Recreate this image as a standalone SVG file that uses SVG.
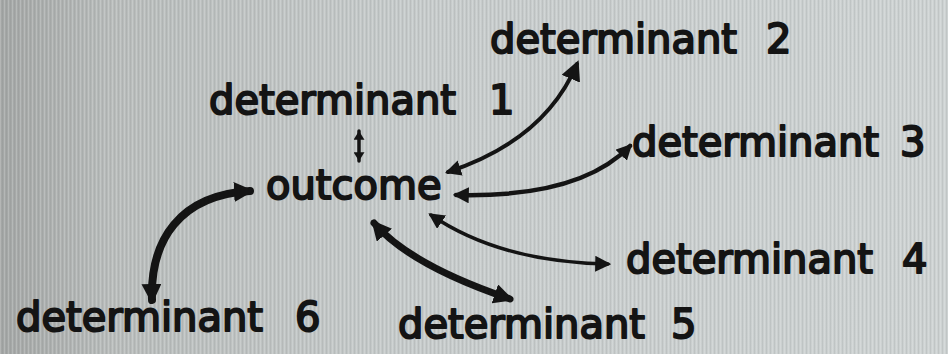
<svg xmlns="http://www.w3.org/2000/svg" width="948" height="354" viewBox="0 0 948 354">
  <defs>
    <linearGradient id="bg" x1="0" y1="0" x2="1" y2="0">
      <stop offset="0" stop-color="#a3a6a5"/>
      <stop offset="0.12" stop-color="#b8bcbb"/>
      <stop offset="0.45" stop-color="#c6cbcb"/>
      <stop offset="1" stop-color="#cdd2d2"/>
    </linearGradient>
    <pattern id="stripes" width="4" height="10" patternUnits="userSpaceOnUse">
      <rect x="0" y="0" width="1" height="10" fill="#ffffff" opacity="0.18"/>
      <rect x="2" y="0" width="1" height="10" fill="#6a7070" opacity="0.12"/>
    </pattern>
    <marker id="head" viewBox="0 0 10 10" refX="8" refY="5" markerWidth="16" markerHeight="16" markerUnits="userSpaceOnUse" orient="auto-start-reverse">
      <path d="M0,0 L10,5 L0,10 Z" fill="#141414"/>
    </marker>
    <marker id="headS" viewBox="0 0 10 10" refX="8" refY="5" markerWidth="11" markerHeight="11" markerUnits="userSpaceOnUse" orient="auto-start-reverse">
      <path d="M0,0 L8,5 L0,10 Z" fill="#141414"/>
    </marker>
    <marker id="headL" viewBox="0 0 10 10" refX="8" refY="5" markerWidth="20" markerHeight="20" markerUnits="userSpaceOnUse" orient="auto-start-reverse">
      <path d="M0,0 L10,5 L0,10 Z" fill="#141414"/>
    </marker>
  </defs>
  <style>
    .lbl { font-family: "DejaVu Sans", "Liberation Sans", sans-serif; font-size: 40px; fill: #141414; stroke: #141414; stroke-width: 2px; stroke-linejoin: round; }
    .arr { fill: none; stroke: #141414; stroke-linecap: round; }
  </style>
  <rect x="0" y="0" width="948" height="354" fill="url(#bg)"/>
  <rect x="0" y="0" width="948" height="354" fill="url(#stripes)"/>

  <g id="connectors">
    <path class="arr" d="M359,131 L359,161" stroke-width="3.5" marker-start="url(#headS)" marker-end="url(#headS)"/>
    <path class="arr" d="M448,172 Q545,140 577,64" stroke-width="4" marker-start="url(#head)" marker-end="url(#headL)"/>
    <path class="arr" d="M456,195 Q580,198 630,146" stroke-width="4.5" marker-start="url(#head)" marker-end="url(#head)"/>
    <path class="arr" d="M431,215 Q500,262 608,264" stroke-width="3.5" marker-start="url(#head)" marker-end="url(#head)"/>
    <path class="arr" d="M374,223 Q410,265 510,299" stroke-width="7" marker-start="url(#headL)" marker-end="url(#headL)"/>
    <path class="arr" d="M152,300 C150,240 180,195 250,191" stroke-width="8" marker-start="url(#headL)" marker-end="url(#headL)"/>
  </g>

  <g id="outcome">
    <text class="lbl" x="266" y="199">outcome</text>
  </g>
  <g id="determinant1">
    <text class="lbl" x="209" y="114"><tspan>determinant</tspan> <tspan x="489">1</tspan></text>
  </g>
  <g id="determinant2">
    <text class="lbl" x="490" y="53"><tspan>determinant</tspan> <tspan x="766">2</tspan></text>
  </g>
  <g id="determinant3">
    <text class="lbl" x="632" y="156"><tspan>determinant</tspan> <tspan x="900">3</tspan></text>
  </g>
  <g id="determinant4">
    <text class="lbl" x="626" y="273"><tspan>determinant</tspan> <tspan x="902">4</tspan></text>
  </g>
  <g id="determinant5">
    <text class="lbl" x="398" y="338"><tspan>determinant</tspan> <tspan x="671">5</tspan></text>
  </g>
  <g id="determinant6">
    <text class="lbl" x="16" y="331"><tspan>determinant</tspan> <tspan x="295">6</tspan></text>
  </g>
</svg>
